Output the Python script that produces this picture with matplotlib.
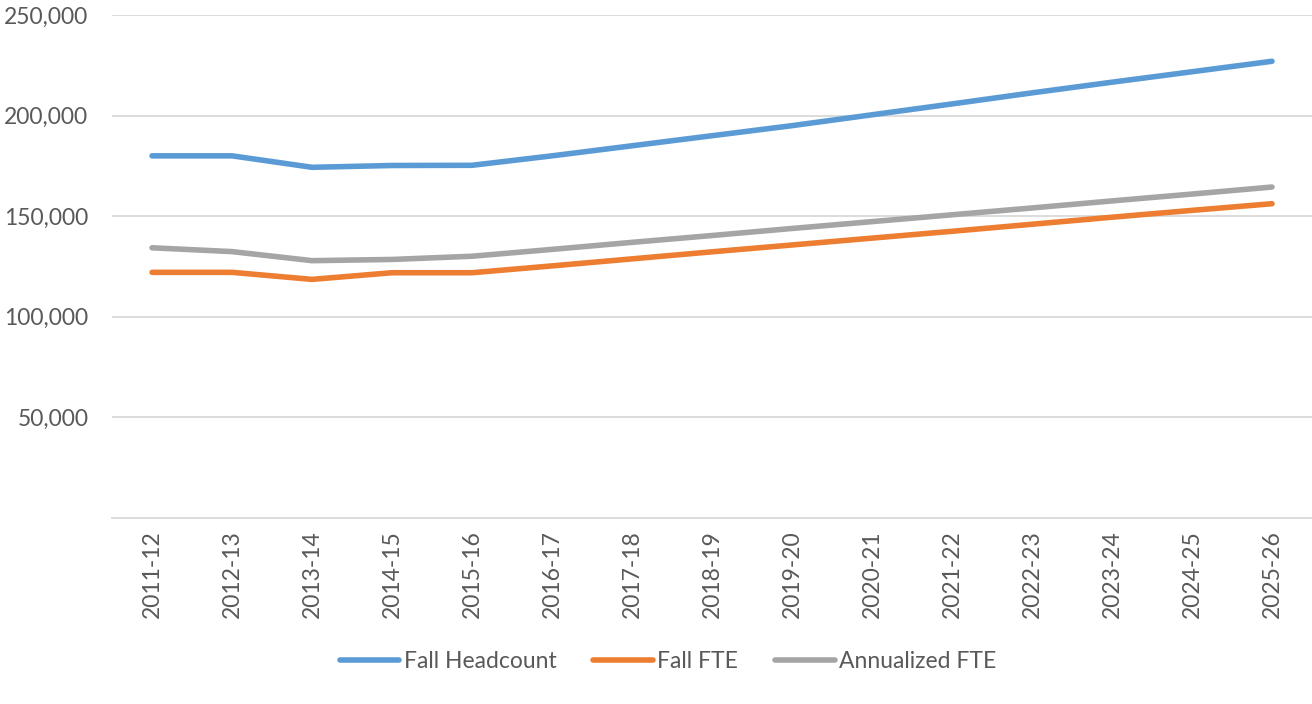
import matplotlib.pyplot as plt
from matplotlib.ticker import FuncFormatter

plt.rcParams['font.family'] = ['Lato', 'DejaVu Sans']

years = ["2011-12", "2012-13", "2013-14", "2014-15", "2015-16", "2016-17", "2017-18",
         "2018-19", "2019-20", "2020-21", "2021-22", "2022-23", "2023-24", "2024-25", "2025-26"]
fall_headcount = [180000, 180000, 174300, 175200, 175300, 180000, 185000, 190000,
                  195000, 200400, 205800, 211300, 216600, 221800, 227000]
fall_fte = [122100, 122100, 118600, 121900, 121900, 125300, 128800, 132300,
            135700, 139100, 142500, 146000, 149500, 152900, 156200]
annualized_fte = [134300, 132400, 127900, 128500, 130100, 133500, 137000, 140400,
                  143900, 147300, 150700, 154100, 157600, 161000, 164500]

series = [
    ("Fall Headcount", fall_headcount, "#5B9BD5"),
    ("Fall FTE", fall_fte, "#ED7D31"),
    ("Annualized FTE", annualized_fte, "#A5A5A5"),
]

fig = plt.figure(figsize=(13.12, 7.04), dpi=100)
ax = fig.add_axes([0.0854, 0.2642, 0.9146, 0.7145])

x = range(len(years))
for name, vals, color in series:
    ax.plot(x, vals, color=color, lw=4, label=name, solid_capstyle="round",
            solid_joinstyle="round")

ax.set_xlim(-0.5, len(years) - 0.5)
ax.set_ylim(0, 250000)
ax.set_yticks([50000, 100000, 150000, 200000, 250000])
ax.yaxis.set_major_formatter(FuncFormatter(lambda v, p: f"{int(v):,}"))
ax.grid(axis="y", color="#D9D9D9", lw=1.3)
ax.set_axisbelow(True)

for s in ["top", "right", "left"]:
    ax.spines[s].set_visible(False)
ax.spines["bottom"].set_color("#D9D9D9")
ax.spines["bottom"].set_linewidth(1.3)

ax.set_xticks(list(x))
ax.set_xticklabels(years, rotation=90)
ax.tick_params(axis="both", length=0, labelsize=16.5, labelcolor="#595959")
ax.tick_params(axis="y", pad=17)
ax.tick_params(axis="x", pad=9)

fig.legend(loc="center", bbox_to_anchor=(668 / 1312, 1 - 662 / 704), ncol=3, frameon=False,
           fontsize=16.5, labelcolor="#595959", handlelength=2.6, handletextpad=0.2,
           columnspacing=1.6)

fig.savefig("out.png", dpi=100)
